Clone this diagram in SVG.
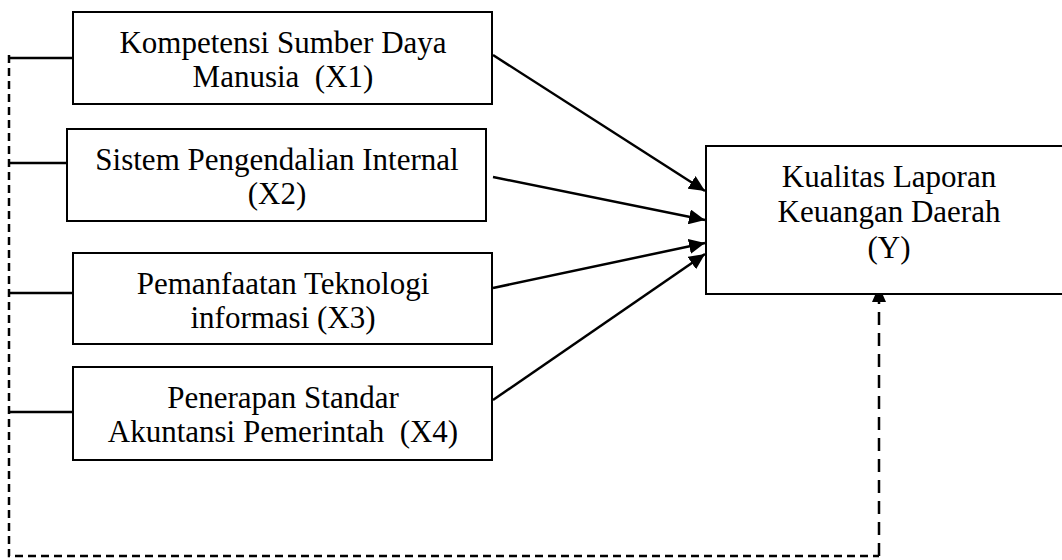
<svg xmlns="http://www.w3.org/2000/svg" width="1062" height="560" viewBox="0 0 1062 560">
<style>
.box{fill:#fff;stroke:#000;stroke-width:2}
.t{font-family:"Liberation Serif","Times New Roman",serif;font-size:31px;fill:#000;text-anchor:middle;white-space:pre}
.ln{stroke:#000;stroke-width:2.5;fill:none}
.dash{stroke:#000;stroke-width:2.5;fill:none;stroke-dasharray:8 5}
.dash2{stroke:#000;stroke-width:2.5;fill:none;stroke-dasharray:13 8}
</style>
<defs>
<marker id="ah" markerWidth="17" markerHeight="15" refX="16" refY="7.5" orient="auto" markerUnits="userSpaceOnUse">
<path d="M0,0 L16,7.5 L0,15 Z" fill="#000"/>
</marker>
</defs>
<rect width="1062" height="560" fill="#fff"/>
<g id="connectors">
<line class="ln" x1="10" y1="58" x2="73" y2="58"/>
<line class="ln" x1="10" y1="163" x2="67" y2="163"/>
<line class="ln" x1="10" y1="293" x2="73" y2="293"/>
<line class="ln" x1="10" y1="412" x2="73" y2="412"/>
<line class="ln" x1="493" y1="55" x2="705" y2="191" marker-end="url(#ah)"/>
<line class="ln" x1="493" y1="177" x2="705" y2="220" marker-end="url(#ah)"/>
<line class="ln" x1="493" y1="288" x2="705" y2="243" marker-end="url(#ah)"/>
<line class="ln" x1="493" y1="400" x2="705" y2="254" marker-end="url(#ah)"/>
<path class="dash" d="M9,55 V556 H879"/>
<path class="dash2" d="M879,556 V300"/>
<path d="M879,286 L886,302 L872,302 Z" fill="#000"/>
</g>
<g id="x1">
<rect class="box" x="73" y="12" width="419" height="92"/>
<text class="t" x="283" y="53">Kompetensi Sumber Daya</text>
<text class="t" x="283" y="87">Manusia  (X1)</text>
</g>
<g id="x2">
<rect class="box" x="67" y="129" width="419" height="92"/>
<text class="t" x="277" y="170">Sistem Pengendalian Internal</text>
<text class="t" x="277" y="204">(X2)</text>
</g>
<g id="x3">
<rect class="box" x="73" y="253" width="419" height="91"/>
<text class="t" x="283" y="294">Pemanfaatan Teknologi</text>
<text class="t" x="283" y="328">informasi (X3)</text>
</g>
<g id="x4">
<rect class="box" x="73" y="367" width="419" height="93"/>
<text class="t" x="283" y="408">Penerapan Standar</text>
<text class="t" x="283" y="442">Akuntansi Pemerintah  (X4)</text>
</g>
<g id="y">
<rect class="box" x="706" y="146" width="366" height="148"/>
<text class="t" x="889" y="187">Kualitas Laporan</text>
<text class="t" x="889" y="222">Keuangan Daerah</text>
<text class="t" x="889" y="258">(Y)</text>
</g>
</svg>
